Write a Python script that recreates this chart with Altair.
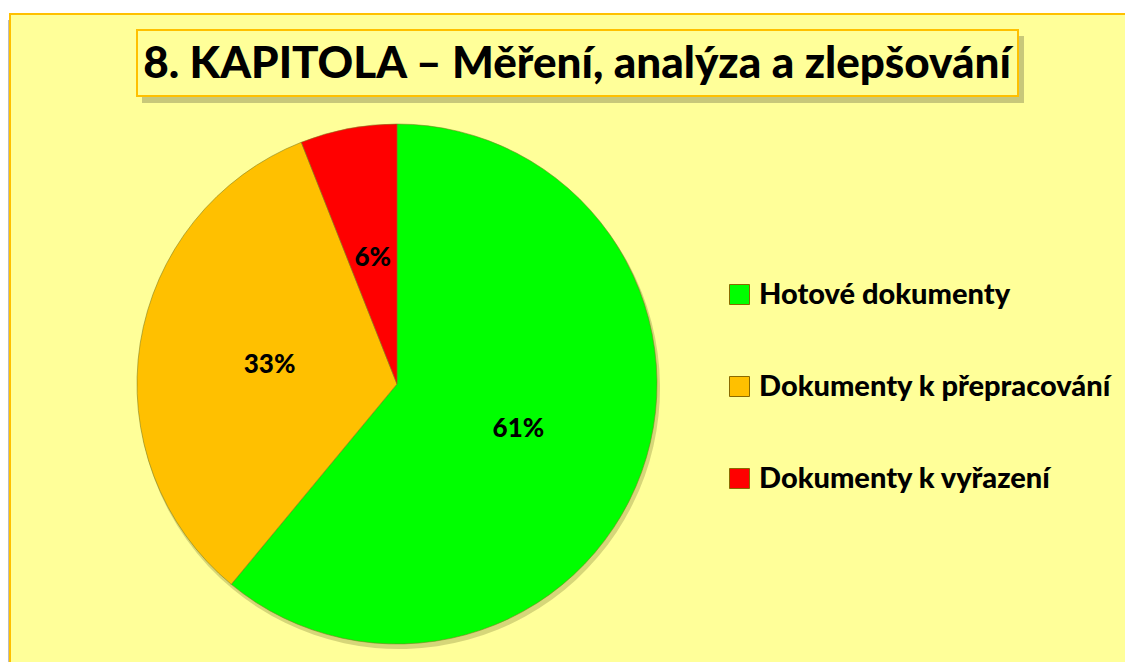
import altair as alt
import pandas as pd

categories = ["Hotové dokumenty", "Dokumenty k přepracování", "Dokumenty k vyřazení"]
values = [61, 33, 6]
labels = ["61%", "33%", "6%"]
order = [0, 1, 2]
colors = ["#00FF00", "#FFC000", "#FF0000"]
title_text = "8. KAPITOLA – Měření, analýza a zlepšování"

df = pd.DataFrame({"cat": categories, "value": values, "label": labels, "order": order})
one = pd.DataFrame({"k": [0]})

W, H = 1117, 654
CX, CY, R = 389, 376, 260
FONT = "Lato"


def box(x, x2, y, y2, **kw):
    return alt.Chart(one).mark_rect(**kw).encode(
        x=alt.value(x), x2=alt.value(x2), y=alt.value(y), y2=alt.value(y2)
    )


frame_shadow = box(-4, 4, 12, 700, color="#bdbdbd")
frame = box(2, 1140, 6, 700, fill="#FFFF99", stroke="#FFC000", strokeWidth=2)
title_shadow = box(134, 1016, 28, 95, color="#9a9a60", opacity=0.55)
title_box = box(129, 1010, 22, 88, fill="#FFFF99", stroke="#FFC000", strokeWidth=2)
title = alt.Chart(one).mark_text(
    text=title_text, font=FONT, fontSize=44, fontWeight=900, color="black",
    align="center", baseline="middle"
).encode(x=alt.value(569), y=alt.value(57))

pie_shadow = alt.Chart(df).mark_arc(outerRadius=R + 1, color="#8a8a40", opacity=0.35).encode(
    theta=alt.Theta("value:Q", stack=True),
    order=alt.Order("order:Q"),
    x=alt.value(CX + 2), y=alt.value(CY + 4),
)

pie = alt.Chart(df).mark_arc(outerRadius=R, stroke="#7d7d20", strokeWidth=0.8, strokeOpacity=0.7).encode(
    theta=alt.Theta("value:Q", stack=True),
    order=alt.Order("order:Q"),
    color=alt.Color(
        "cat:N",
        scale=alt.Scale(domain=categories, range=colors),
        legend=alt.Legend(
            title=None, orient="none", legendX=717, legendY=272,
            symbolType="square", symbolSize=400, symbolStrokeWidth=1,
            symbolStrokeColor="#8a6a00", symbolOpacity=1,
            labelFont=FONT, labelFontSize=29, labelFontWeight=900,
            labelColor="black", labelOffset=5, rowPadding=62, padding=0,
            labelLimit=500,
        ),
    ),
    x=alt.value(CX), y=alt.value(CY),
)

text = alt.Chart(df).mark_text(
    radius=129, font=FONT, fontSize=26, fontWeight=900, color="black"
).encode(
    theta=alt.Theta("value:Q", stack=True),
    order=alt.Order("order:Q"),
    text="label:N",
    x=alt.value(CX), y=alt.value(CY + 1),
)

chart = alt.layer(
    frame_shadow, frame, title_shadow, title_box, title, pie_shadow, pie, text
).properties(
    width=W, height=H, autosize=alt.AutoSizeParams(type="none"), padding=0,
    background="white",
).configure_view(stroke=None)

chart.save("out.html", embed_options={"renderer": "svg", "actions": False})
